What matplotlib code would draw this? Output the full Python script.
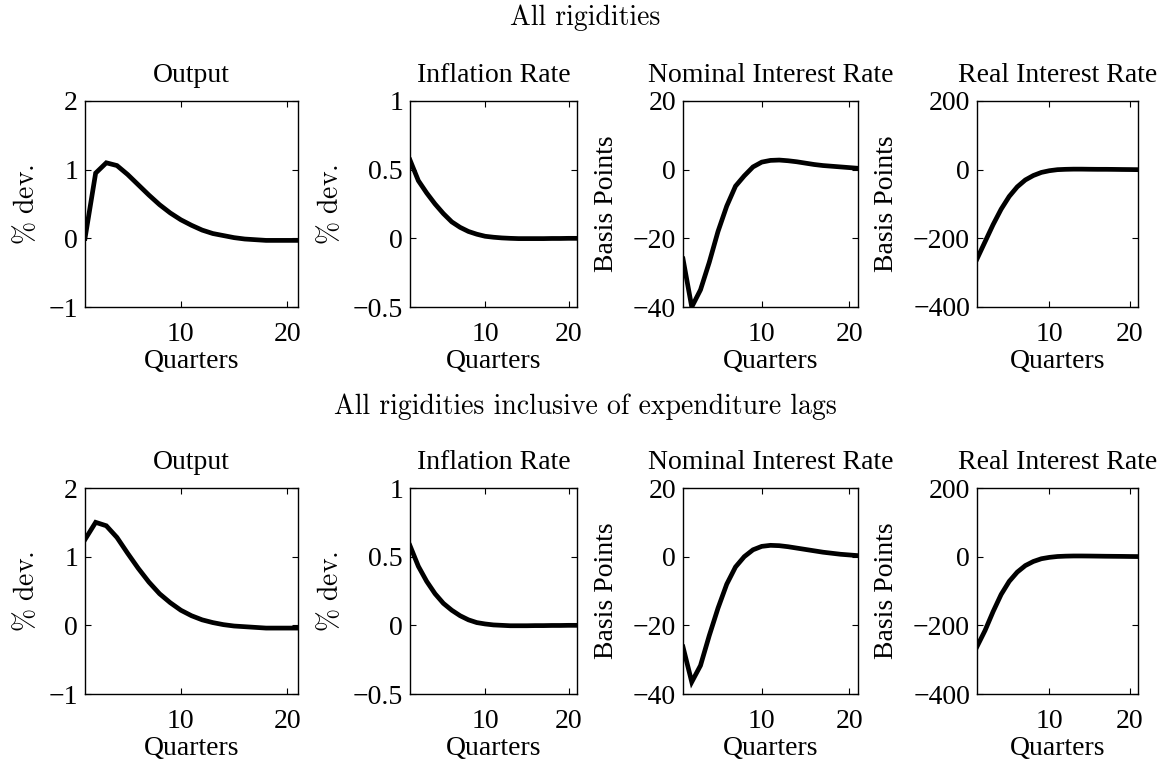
import matplotlib
matplotlib.use("Agg")
import matplotlib.pyplot as plt

quarters = list(range(1, 22))

# top block: all rigidities
output_a = [0.0, 0.95, 1.10, 1.06, 0.93, 0.78, 0.63, 0.49, 0.37, 0.27, 0.19,
            0.12, 0.07, 0.04, 0.01, -0.01, -0.02, -0.03, -0.03, -0.03, -0.03]
infl_a = [0.57, 0.42, 0.33, 0.25, 0.18, 0.12, 0.08, 0.05, 0.03, 0.015, 0.008,
          0.003, 0.0, -0.002, -0.002, -0.002, -0.002, -0.001, -0.001, 0.0, 0.0]
nom_a = [-26, -40, -35, -27, -18, -10.6, -4.8, -1.8, 0.8, 2.2, 2.7,
         2.8, 2.6, 2.3, 1.9, 1.5, 1.2, 1.0, 0.8, 0.6, 0.4]
real_a = [-260, -210, -160, -115, -78, -50, -30, -17, -8, -3, 0,
          1, 1.5, 1.5, 1.2, 1, 1, 0.8, 0.5, 0.3, 0]

# bottom block: all rigidities inclusive of expenditure lags
output_b = [1.25, 1.50, 1.45, 1.28, 1.05, 0.83, 0.63, 0.46, 0.33, 0.22, 0.14,
            0.08, 0.04, 0.01, -0.01, -0.02, -0.03, -0.04, -0.04, -0.04, -0.04]
infl_b = [0.58, 0.43, 0.32, 0.23, 0.16, 0.11, 0.07, 0.04, 0.02, 0.01, 0.003,
          0.0, -0.003, -0.003, -0.003, -0.002, -0.002, -0.001, -0.001, 0.0, 0.0]
nom_b = [-26.3, -36.5, -31.7, -23, -15, -8, -3, 0, 2, 3, 3.3,
         3.2, 2.9, 2.5, 2.1, 1.7, 1.3, 1.0, 0.7, 0.5, 0.3]
real_b = [-262, -215, -160, -110, -72, -45, -26, -14, -6, -2, 0.5,
          1.5, 2, 2, 1.8, 1.5, 1.2, 1, 0.8, 0.5, 0.3]

titles = ["Output", "Inflation Rate", "Nominal Interest Rate", "Real Interest Rate"]
ylabels = [r"$\mathrm{\%\ dev.}$", r"$\mathrm{\%\ dev.}$", "Basis Points", "Basis Points"]
ylims = [(-1, 2), (-0.5, 1), (-40, 20), (-400, 200)]
yticks = [[-1, 0, 1, 2], [-0.5, 0, 0.5, 1], [-40, -20, 0, 20], [-400, -200, 0, 200]]
ytick_labels = [["\u22121", "0", "1", "2"], ["\u22120.5", "0", "0.5", "1"],
                ["\u221240", "\u221220", "0", "20"], ["\u2212400", "\u2212200", "0", "200"]]
section_titles = ["All rigidities", "All rigidities inclusive of expenditure lags"]

W, H = 1170, 767
lefts = [85, 410, 683, 977]
rights = [298, 577, 858, 1138]
row_tops = [101, 488]
row_h = 206

plt.rcParams['font.family'] = 'Liberation Serif'
plt.rcParams['mathtext.fontset'] = 'cm'
fig = plt.figure(figsize=(W / 100, H / 100), dpi=100)

rows = [[output_a, infl_a, nom_a, real_a], [output_b, infl_b, nom_b, real_b]]
for r in range(2):
    for c in range(4):
        top = row_tops[r]
        ax = fig.add_axes([lefts[c] / W, 1 - (top + row_h) / H,
                           (rights[c] - lefts[c]) / W, row_h / H])
        ax.plot(quarters, rows[r][c], color='black', lw=3.4, solid_joinstyle='miter')
        ax.set_xlim(1, 21)
        ax.set_ylim(*ylims[c])
        ax.set_xticks([10, 20])
        ax.set_yticks(yticks[c])
        ax.set_yticklabels(ytick_labels[c])
        ax.tick_params(direction='in', top=True, right=True, length=4,
                       width=0.8, labelsize=20)
        ax.tick_params(axis='x', pad=11)
        ax.tick_params(axis='y', pad=5)
        for s in ax.spines.values():
            s.set_linewidth(1.0)
        ax.set_title(titles[c], fontsize=20, pad=14)
        ax.set_xlabel("Quarters", fontsize=20, labelpad=1)
        ax.set_ylabel(ylabels[c], fontsize=20, labelpad=6 if c < 2 else 10)

fig.text(585 / W, 1 - 18 / H, section_titles[0], family='cmr10', fontsize=20,
         ha='center', va='center')
fig.text(585 / W, 1 - 407 / H, section_titles[1], family='cmr10', fontsize=20,
         ha='center', va='center')

fig.savefig("out.png", dpi=100)
